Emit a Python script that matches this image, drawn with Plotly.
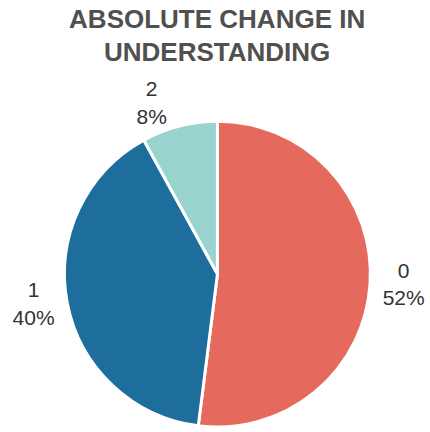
import plotly.graph_objects as go

# Share of respondents by absolute change in understanding
categories = ["0", "1", "2"]
shares = [52, 40, 8]
slice_colors = ["#E6695E", "#1D6D9D", "#99D3CE"]

fig = go.Figure(
    go.Pie(
        labels=categories,
        values=shares,
        sort=False,
        direction="clockwise",
        rotation=0,
        domain=dict(x=[0.150, 0.866], y=[0.0046, 0.7176]),
        marker=dict(colors=slice_colors, line=dict(color="white", width=3)),
        textinfo="label+percent",
        texttemplate="%{label}<br>%{percent:.0%}",
        textposition="outside",
        outsidetextfont=dict(size=21, color="#333333", family="Liberation Sans, Arial, sans-serif"),
        showlegend=False,
        hoverinfo="label+percent",
    )
)

fig.update_layout(
    width=430,
    height=432,
    margin=dict(l=0, r=0, t=0, b=0),
    paper_bgcolor="white",
    plot_bgcolor="white",
    title=dict(
        text="<b>ABSOLUTE CHANGE IN<br>UNDERSTANDING</b>",
        x=0.505,
        xanchor="center",
        y=0.936,
        yanchor="top",
        font=dict(size=26, color="#505050", family="Liberation Sans, Arial, sans-serif"),
    ),
)

fig.write_html("out.html")
